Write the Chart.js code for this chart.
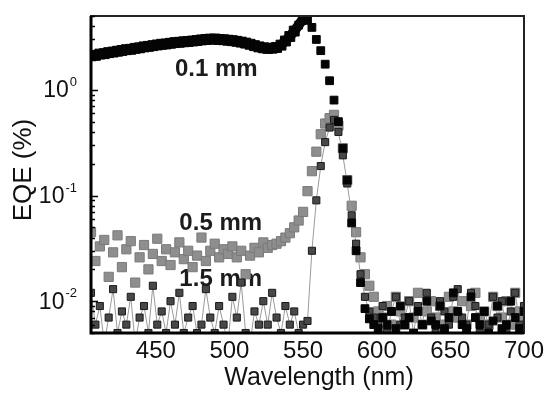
<!DOCTYPE html>
<html>
<head>
<meta charset="utf-8">
<title>EQE spectra</title>
<script src="https://cdn.jsdelivr.net/npm/chart.js@4.4.1/dist/chart.umd.min.js"></script>
<style>
  body { margin: 0; background: #fff; }
  canvas { display: block; }
</style>
</head>
<body>
<canvas id="mycanvas" width="548" height="394"></canvas>
<script>
// wavelength grid (nm)
var wavelength = [406,409,412,415,418,421,424,427,430,433,436,439,442,445,448,451,454,457,460,463,
	466,469,472,475,478,481,484,487,490,493,496,499,502,505,508,511,514,517,520,523,
	526,529,532,535,538,541,544,547,550,553,556,559,562,565,568,571,574,577,580,583,
	586,589,592,595,598,601,604,607,610,613,616,619,622,625,628,631,634,637,640,643,
	646,649,652,655,658,661,664,667,670,673,676,679,682,685,688,691,694,697,700];

// EQE (%)
var eqe_01mm = [2.1,2.12,2.18,2.2,2.25,2.28,2.32,2.36,2.4,2.42,
	2.47,2.5,2.55,2.58,2.62,2.66,2.7,2.72,2.76,2.8,
	2.82,2.85,2.87,2.9,2.93,2.97,3.0,3.02,3.03,3.0,
	2.98,2.95,2.92,2.88,2.83,2.77,2.7,2.62,2.55,2.5,
	2.47,2.48,2.52,2.65,2.9,3.2,3.6,4.1,4.7,4.55,
	3.9,3.0,2.35,1.75,1.22,0.8,0.5,0.28,0.14,0.055,
	0.03,0.015,0.0085,0.0068,0.006,
	0.0055,0.007,0.006,0.008,0.0055,0.009,0.006,0.007,0.005,0.008,
	0.006,0.01,0.0065,0.006,0.009,0.0055,0.007,0.012,0.008,0.006,
	0.0055,0.011,0.007,0.006,0.008,0.005,0.0065,0.009,0.0055,0.006,
	0.01,0.007,0.0055,0.008];

var eqe_05mm = [0.045,0.024,0.033,0.038,0.017,0.029,0.042,0.021,0.031,0.037,
	0.015,0.026,0.034,0.02,0.028,0.039,0.024,0.031,0.022,0.029,
	0.036,0.025,0.03,0.021,0.027,0.04,0.024,0.03,0.035,0.026,
	0.031,0.028,0.033,0.026,0.03,0.018,0.027,0.032,0.029,0.036,
	0.032,0.034,0.035,0.037,0.04,0.044,0.05,0.058,0.07,0.11,
	0.17,0.26,0.38,0.48,0.54,0.58,0.46,0.28,0.14,0.08,
	0.045,0.026,0.018,0.014,0.011,0.008,
	0.007,0.009,0.006,0.011,0.008,0.006,0.01,0.007,0.012,0.006,
	0.008,0.01,0.007,0.009,0.006,0.011,0.008,0.007,0.01,0.006,
	0.009,0.012,0.007,0.008,0.006,0.011,0.009,0.007,0.01,0.006,
	0.012,0.008,0.007];

var eqe_15mm = [0.012,0.006,0.009,0.004,0.007,0.013,0.005,0.008,0.006,0.011,
	0.004,0.007,0.009,0.005,0.014,0.006,0.008,0.005,0.01,0.006,
	0.012,0.005,0.007,0.009,0.005,0.006,0.013,0.007,0.005,0.009,
	0.006,0.004,0.011,0.007,0.015,0.005,0.004,0.008,0.006,0.01,
	0.006,0.012,0.007,0.005,0.009,0.006,0.008,0.005,0.006,0.0065,
	0.03,0.09,0.19,0.32,0.44,0.52,0.4,0.24,0.13,0.065,
	0.035,0.018,0.011,0.008,0.007,
	0.006,0.009,0.005,0.008,0.011,0.006,0.007,0.01,0.005,0.009,
	0.006,0.012,0.007,0.005,0.01,0.008,0.006,0.011,0.013,0.007,
	0.006,0.012,0.009,0.005,0.008,0.006,0.011,0.007,0.01,0.005,
	0.008,0.012,0.006,0.009];

var seriesLabels = ['0.1 mm', '0.5 mm', '1.5 mm'];
var xTicks = [450, 500, 550, 600, 650, 700];
var yTicks = [0.01, 0.1, 1];
var yTickExp = ['-2', '-1', '0'];

function points(vals) {
	var out = [];
	for (var i = 0; i < wavelength.length; i++) {
		out.push({x: wavelength[i], y: vals[i]});
	}
	return out;
}

var FONT = '"Liberation Sans", Arial, sans-serif';

// where the curve names sit, in data units
var labelSpots = [[463, 1.55], [466, 0.054], [466, 0.0161]];

var decorations = {
	id: 'decorations',
	beforeDatasetsDraw: function(chart) {
		var ctx = chart.ctx, xs = chart.scales.x, ys = chart.scales.y;
		ctx.save();
		ctx.font = 'bold 24px ' + FONT;
		ctx.fillStyle = '#1c1c1c';
		ctx.textBaseline = 'middle';
		ctx.textAlign = 'left';
		for (var i = 0; i < seriesLabels.length; i++) {
			ctx.fillText(seriesLabels[i], xs.getPixelForValue(labelSpots[i][0]), ys.getPixelForValue(labelSpots[i][1]));
		}
		ctx.restore();
	},
	afterDraw: function(chart) {
		var ctx = chart.ctx, ca = chart.chartArea, ys = chart.scales.y;
		ctx.save();
		// box
		ctx.strokeStyle = '#222';
		ctx.lineWidth = 2;
		ctx.strokeRect(ca.left, ca.top, ca.right - ca.left, ca.bottom - ca.top);
		ctx.strokeStyle = '#000';
		ctx.lineWidth = 3;
		ctx.beginPath();
		ctx.moveTo(ca.left, ca.top);
		ctx.lineTo(ca.left, ca.bottom);
		ctx.lineTo(ca.right, ca.bottom);
		ctx.stroke();

		// log ticks on the left axis, pointing in
		ctx.lineWidth = 1.5;
		ctx.beginPath();
		for (var k = -3; k <= 0; k++) {
			for (var m = 1; m <= 9; m++) {
				var v = m * Math.pow(10, k);
				if (v < ys.min || v > ys.max) continue;
				var py = Math.round(ys.getPixelForValue(v)) + 0.5;
				ctx.moveTo(ca.left, py);
				ctx.lineTo(ca.left + (m === 1 ? 7 : 4), py);
			}
		}
		ctx.stroke();

		// y tick labels 10^n
		ctx.fillStyle = '#111';
		for (var i = 0; i < yTicks.length; i++) {
			var ty = ys.getPixelForValue(yTicks[i]);
			ctx.font = '13px ' + FONT;
			ctx.textAlign = 'right';
			ctx.textBaseline = 'alphabetic';
			var ew = ctx.measureText(yTickExp[i]).width;
			ctx.fillText(yTickExp[i], 77, ty - 4);
			ctx.font = '23px ' + FONT;
			ctx.textBaseline = 'middle';
			ctx.fillText('10', 76 - ew, ty + 1);
		}

		// axis titles
		ctx.font = '25px ' + FONT;
		ctx.textAlign = 'center';
		ctx.textBaseline = 'middle';
		ctx.fillText('Wavelength (nm)', 319, 378);
		ctx.translate(24, 170);
		ctx.rotate(-Math.PI / 2);
		ctx.font = '26px ' + FONT;
		ctx.fillText('EQE (%)', 0, 0);
		ctx.restore();
	}
};

var ctx = document.getElementById('mycanvas');

var chart = new Chart(ctx, {
	type: 'scatter',
	data: {
		datasets: [
			{
				label: seriesLabels[0],
				data: points(eqe_01mm),
				pointStyle: 'rect',
				pointRadius: function(c) { return c.raw && c.raw.x < 546 ? 7 : 5.5; },
				backgroundColor: '#050505',
				borderColor: '#050505',
				pointBorderWidth: 1,
				showLine: true,
				borderWidth: 10,
				segment: {
					borderColor: function(s) { return s.p1.parsed.x <= 553 ? '#050505' : 'rgba(0,0,0,0)'; }
				},
				clip: 0
			},
			{
				label: seriesLabels[2],
				data: points(eqe_15mm),
				pointStyle: 'rect',
				pointRadius: 5,
				backgroundColor: '#484848',
				borderColor: '#9a9a9a',
				pointBorderColor: '#1a1a1a',
				pointBorderWidth: 1,
				showLine: true,
				borderWidth: 1,
				clip: 0
			},
			{
				label: seriesLabels[1],
				data: points(eqe_05mm),
				pointStyle: 'rect',
				pointRadius: 6.5,
				backgroundColor: '#8e8e8e',
				borderColor: '#7a7a7a',
				borderWidth: 1,
				showLine: false,
				clip: 0
			}
		]
	},
	options: {
		responsive: false,
		animation: false,
		devicePixelRatio: 1,
		layout: { padding: { top: 16, right: 24, left: 0, bottom: 0 } },
		plugins: { legend: { display: false }, tooltip: { enabled: false } },
		scales: {
			x: {
				type: 'linear',
				min: 406,
				max: 700,
				grid: { display: false },
				border: { display: false },
				ticks: {
					color: '#111',
					padding: -4,
					maxRotation: 0,
					font: { family: FONT, size: 24 }
				},
				afterBuildTicks: function(scale) {
					scale.ticks = xTicks.map(function(v) { return {value: v}; });
				},
				afterFit: function(scale) { scale.height = 61; }
			},
			y: {
				type: 'logarithmic',
				min: 0.005,
				max: 5,
				grid: { display: false },
				border: { display: false },
				ticks: { display: false },
				afterBuildTicks: function(scale) {
					scale.ticks = yTicks.map(function(v) { return {value: v}; });
				},
				afterFit: function(scale) { scale.width = 91; }
			}
		}
	},
	plugins: [decorations]
});
</script>
</body>
</html>
